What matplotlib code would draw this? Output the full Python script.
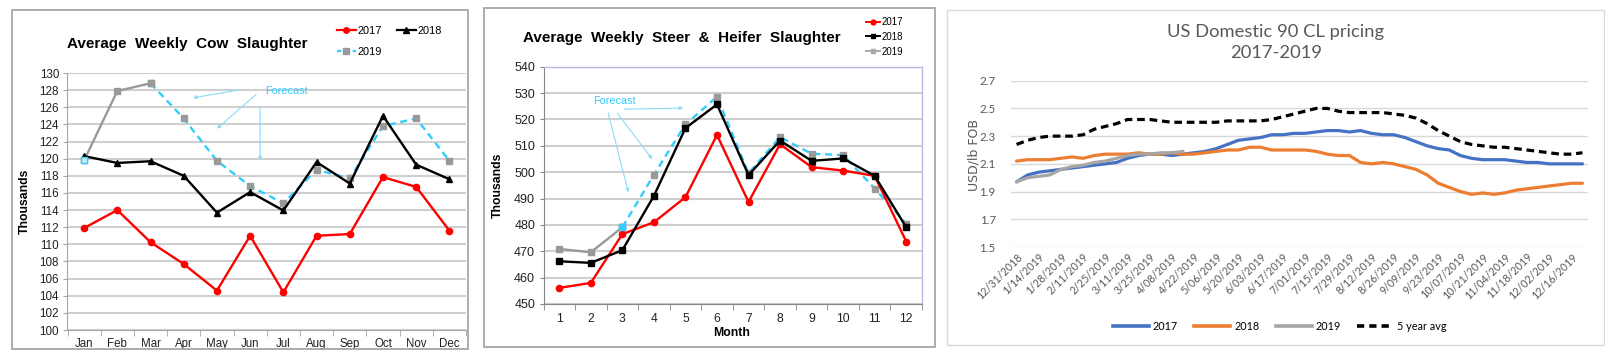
import matplotlib
matplotlib.use('Agg')
import matplotlib.pyplot as plt
import numpy as np
from matplotlib.lines import Line2D
from matplotlib.patches import Rectangle

# ---------------- data ----------------
months = ['Jan', 'Feb', 'Mar', 'Apr', 'May', 'Jun', 'Jul', 'Aug', 'Sep', 'Oct', 'Nov', 'Dec']
cow_2017 = [111.9, 114.0, 110.25, 107.7, 104.6, 111.0, 104.4, 111.0, 111.2, 117.85, 116.7, 111.6]
cow_2018 = [120.3, 119.5, 119.7, 118.0, 113.7, 116.1, 113.95, 119.6, 117.1, 125.0, 119.3, 117.6]
cow_2019 = [119.8, 127.9, 128.8, 124.7, 119.75, 116.8, 114.8, 118.7, 117.7, 123.8, 124.7, 119.75]

month_nums = [1, 2, 3, 4, 5, 6, 7, 8, 9, 10, 11, 12]
steer_2017 = [456.1, 458.0, 476.5, 481.0, 490.5, 514.1, 488.7, 510.6, 501.9, 500.6, 498.6, 473.7]
steer_2018 = [466.2, 465.6, 470.4, 491.0, 516.7, 525.7, 498.9, 512.0, 504.3, 505.2, 498.6, 479.1]
steer_2019 = [470.9, 469.6, 479.1, 499.0, 518.1, 528.6, 499.6, 513.3, 507.0, 506.5, 493.8, 480.5]

week_labels = ['12/31/2018', '1/14/2019', '1/28/2019', '2/11/2019', '2/25/2019', '3/11/2019',
               '3/25/2019', '4/08/2019', '4/22/2019', '5/06/2019', '5/20/2019', '6/03/2019',
               '6/17/2019', '7/01/2019', '7/15/2019', '7/29/2019', '8/12/2019', '8/26/2019',
               '9/09/2019', '9/23/2019', '10/07/2019', '10/21/2019', '11/04/2019', '11/18/2019',
               '12/02/2019', '12/16/2019']
price_2017 = [1.97, 2.02, 2.04, 2.05, 2.06, 2.07, 2.08, 2.09, 2.10, 2.11, 2.14, 2.16, 2.17,
              2.17, 2.16, 2.17, 2.18, 2.19, 2.21, 2.24, 2.27, 2.28, 2.29, 2.31, 2.31, 2.32,
              2.32, 2.33, 2.34, 2.34, 2.33, 2.34, 2.32, 2.31, 2.31, 2.29, 2.26, 2.23, 2.21,
              2.20, 2.16, 2.14, 2.13, 2.13, 2.13, 2.12, 2.11, 2.11, 2.10, 2.10, 2.10, 2.10]
price_2018 = [2.12, 2.13, 2.13, 2.13, 2.14, 2.15, 2.14, 2.16, 2.17, 2.17, 2.17, 2.18, 2.17,
              2.17, 2.18, 2.17, 2.17, 2.18, 2.19, 2.20, 2.20, 2.22, 2.22, 2.20, 2.20, 2.20,
              2.20, 2.19, 2.17, 2.16, 2.16, 2.11, 2.10, 2.11, 2.10, 2.08, 2.06, 2.02, 1.96,
              1.93, 1.90, 1.88, 1.89, 1.88, 1.89, 1.91, 1.92, 1.93, 1.94, 1.95, 1.96, 1.96]
price_2019 = [1.97, 2.00, 2.01, 2.02, 2.06, 2.08, 2.09, 2.11, 2.12, 2.14, 2.16, 2.17, 2.17,
              2.18, 2.18, 2.19]
price_5yr = [2.24, 2.27, 2.29, 2.30, 2.30, 2.30, 2.31, 2.35, 2.37, 2.39, 2.42, 2.42, 2.42,
             2.41, 2.40, 2.40, 2.40, 2.40, 2.40, 2.41, 2.41, 2.41, 2.41, 2.42, 2.44, 2.46,
             2.48, 2.50, 2.50, 2.48, 2.47, 2.47, 2.47, 2.47, 2.46, 2.45, 2.43, 2.39, 2.34,
             2.30, 2.26, 2.24, 2.23, 2.22, 2.22, 2.21, 2.20, 2.19, 2.18, 2.17, 2.17, 2.18]

# ---------------- layout helpers ----------------
W, H = 1606, 362
fig = plt.figure(figsize=(W / 100, H / 100), dpi=100)
ARIAL = 'Liberation Sans'
CALI = 'Lato'


def ax_px(l, t, r, b):
    return fig.add_axes([l / W, 1 - b / H, (r - l) / W, (b - t) / H])


def box_px(l, t, r, b, color, lw):
    fig.add_artist(Rectangle((l / W, 1 - b / H), (r - l) / W, (b - t) / H,
                             transform=fig.transFigure, fill=False,
                             edgecolor=color, linewidth=lw))


def fx(x):
    return x / W


def fy(y):
    return 1 - y / H


RED = '#ff0000'
LBLUE = '#33ccff'
GRAY19 = '#999999'
ARROW = '#8adcf5'

# ================= Panel 1 : cow slaughter =================
box_px(12, 10, 468, 349, '#a6a6a6', 1.3)
ax1 = ax_px(67.5, 73, 466, 330)
x1 = np.arange(len(months))
ax1.plot(x1, cow_2017, color=RED, lw=1.7, marker='o', ms=4.5, zorder=4)
ax1.plot(x1, cow_2018, color='black', lw=1.7, marker='^', ms=5, zorder=4)
ax1.plot(x1[:3], cow_2019[:3], color=GRAY19, lw=1.7, marker='s', ms=4, zorder=3)
ax1.plot(x1[2:], cow_2019[2:], color=LBLUE, lw=1.7, ls=(0, (3, 2)), marker='s', ms=4,
         mfc=GRAY19, mec=GRAY19, zorder=3)
ax1.plot(x1[:1], cow_2019[:1], ls='none', marker='s', ms=4, mfc='#c9ecf8', mec=LBLUE, zorder=5)
ax1.set_xlim(-0.5, 11.5)
ax1.set_ylim(100, 130)
ax1.set_yticks(np.arange(100, 131, 2))
ax1.set_xticks(x1)
ax1.set_xticklabels(months, fontfamily=ARIAL, fontsize=8.3, color='#222222')
ax1.set_xticks(np.arange(-0.5, 12, 1), minor=True)
ax1.tick_params(axis='x', which='major', length=0, pad=5.5)
ax1.tick_params(axis='x', which='minor', length=4, color='#a6a6a6', direction='out')
ax1.tick_params(axis='y', length=3, color='#a6a6a6', pad=3, labelsize=8.4, labelcolor='#222222')
for lab in ax1.get_yticklabels():
    lab.set_fontfamily(ARIAL)
ax1.yaxis.grid(True, color='#cfcfcf', lw=1.5)
ax1.set_axisbelow(True)
for s in ['top', 'right']:
    ax1.spines[s].set_visible(False)
for s in ['left', 'bottom']:
    ax1.spines[s].set_color('#a6a6a6')
ax1.set_ylabel('Thousands', fontfamily=ARIAL, fontweight='bold', fontsize=8.8)
ax1.yaxis.set_label_coords((25 - 67.5) / 398.5, 0.5)
ax1.yaxis.label.set_va('center')
fig.text(fx(67), fy(44), 'Average  Weekly  Cow  Slaughter', fontfamily=ARIAL, fontweight='bold',
         fontsize=11, ha='left', va='center')
ax1.text(6.08, 127.9, 'Forecast', color=LBLUE, fontfamily=ARIAL, fontsize=7.8,
         ha='center', va='center')
arrow_kw = dict(arrowstyle='-|>', color=ARROW, lw=0.8, mutation_scale=5, shrinkA=0, shrinkB=0)
ax1.annotate('', xy=(3.28, 127.1), xytext=(4.64, 128.0), arrowprops=arrow_kw)
ax1.annotate('', xy=(4.0, 123.5), xytext=(5.18, 127.5), arrowprops=arrow_kw)
ax1.annotate('', xy=(5.3, 119.8), xytext=(5.3, 126.0), arrowprops=arrow_kw)
h17 = Line2D([], [], color=RED, lw=1.6, marker='o', ms=4)
h18 = Line2D([], [], color='black', lw=1.6, marker='^', ms=4.5)
h19 = Line2D([], [], color=LBLUE, lw=1.6, ls=(0, (2, 1.5)), marker='s', ms=4, mfc=GRAY19, mec=GRAY19)
ax1.legend([h17, h19, h18], ['2017', '2019', '2018'], ncol=2, frameon=False,
           prop={'family': ARIAL, 'size': 7.9}, handlelength=1.7, handletextpad=0.15,
           columnspacing=1.4, labelspacing=1.0, borderpad=0, borderaxespad=0,
           loc='upper left', bbox_to_anchor=(fx(337), fy(26)),
           bbox_transform=fig.transFigure)

# ================= Panel 2 : steer & heifer =================
box_px(484, 8, 935, 347, '#a6a6a6', 1.3)
ax2 = ax_px(543.5, 66.7, 922, 304)
x2 = np.array(month_nums)
ax2.plot(x2, steer_2017, color=RED, lw=1.7, marker='o', ms=4.5, zorder=4)
ax2.plot(x2, steer_2018, color='black', lw=1.7, marker='s', ms=4.5, zorder=4)
ax2.plot(x2[:3], steer_2019[:3], color=GRAY19, lw=1.7, marker='s', ms=4, zorder=3)
ax2.plot(x2[2:], steer_2019[2:], color=LBLUE, lw=1.7, ls=(0, (3, 2)), marker='s', ms=4,
         mfc=GRAY19, mec=GRAY19, zorder=3)
ax2.plot(x2[2:3], steer_2019[2:3], ls='none', marker='s', ms=4, mfc=LBLUE, mec=LBLUE, zorder=5)
ax2.set_xlim(0.5, 12.5)
ax2.set_ylim(450, 540)
ax2.set_yticks(np.arange(450, 541, 10))
ax2.set_xticks(x2)
ax2.set_xticklabels([str(m) for m in month_nums], fontfamily=ARIAL, fontsize=8.7, color='#222222')
ax2.set_xticks(np.arange(0.5, 13, 1), minor=True)
ax2.tick_params(axis='x', which='major', length=0, pad=6.5)
ax2.tick_params(axis='x', which='minor', length=4, color='#868686', direction='out')
ax2.tick_params(axis='y', length=3, color='#868686', pad=3, labelsize=9, labelcolor='#222222')
for lab in ax2.get_yticklabels():
    lab.set_fontfamily(ARIAL)
ax2.yaxis.grid(True, color='#cfcfcf', lw=1.5)
ax2.set_axisbelow(True)
for s in ['top', 'right']:
    ax2.spines[s].set_color('#b8b8e0')
    ax2.spines[s].set_linewidth(1.0)
for s in ['left', 'bottom']:
    ax2.spines[s].set_color('#868686')
ax2.set_ylabel('Thousands', fontfamily=ARIAL, fontweight='bold', fontsize=8.8)
ax2.yaxis.set_label_coords((498 - 543.5) / 378.5, 0.5)
ax2.yaxis.label.set_va('center')
ax2.set_xlabel('Month', fontfamily=ARIAL, fontweight='bold', fontsize=8.8)
ax2.xaxis.set_label_coords((732 - 543.5) / 378.5, -(333 - 304) / 237.3)
ax2.xaxis.label.set_va('center')
fig.text(fx(523), fy(38), 'Average  Weekly  Steer  &  Heifer  Slaughter', fontfamily=ARIAL,
         fontweight='bold', fontsize=11, ha='left', va='center')
ax2.text(2.74, 527.0, 'Forecast', color=LBLUE, fontfamily=ARIAL, fontsize=7.8,
         ha='center', va='center')
ax2.annotate('', xy=(4.93, 524.3), xytext=(3.06, 523.9), arrowprops=arrow_kw)
ax2.annotate('', xy=(3.95, 504.9), xytext=(2.84, 522.4), arrowprops=arrow_kw)
ax2.annotate('', xy=(3.19, 492.4), xytext=(2.55, 522.4), arrowprops=arrow_kw)
g17 = Line2D([], [], color=RED, lw=1.4, marker='o', ms=3.5)
g18 = Line2D([], [], color='black', lw=1.4, marker='s', ms=3.5)
g19 = Line2D([], [], color='#aaaaaa', lw=1.4, marker='s', ms=3.5)
ax2.legend([g17, g18, g19], ['2017', '2018', '2019'], ncol=1, frameon=False,
           prop={'family': ARIAL, 'size': 6.9}, handlelength=1.5, handletextpad=0.15,
           labelspacing=0.5, borderpad=0, borderaxespad=0,
           loc='upper left', bbox_to_anchor=(fx(866), fy(17)),
           bbox_transform=fig.transFigure)

# ================= Panel 3 : 90 CL pricing =================
box_px(947, 10, 1604, 345, '#d9d9d9', 1.0)
ax3 = ax_px(1011, 80.7, 1588, 247)
wk = np.arange(len(price_2017))
ax3.plot(wk, price_2017, color='#4472c4', lw=2.3, solid_capstyle='round', zorder=3)
ax3.plot(wk, price_2018, color='#ed7d31', lw=2.3, solid_capstyle='round', zorder=3)
ax3.plot(wk[:len(price_2019)], price_2019, color='#a5a5a5', lw=2.3, solid_capstyle='round', zorder=4)
ax3.plot(wk, price_5yr, color='black', lw=2.3, ls=(0, (2.4, 1.5)), zorder=4)
ax3.set_xlim(-0.5, len(wk) - 0.5)
ax3.set_ylim(1.5, 2.7)
ax3.set_yticks(np.arange(1.5, 2.71, 0.2))
ax3.set_yticklabels(['%.1f' % v for v in np.arange(1.5, 2.71, 0.2)], fontfamily=CALI,
                    fontsize=8.3, color='#595959')
ax3.set_xticks(wk[::2])
ax3.set_xticklabels(week_labels, fontfamily=CALI, fontsize=7.7, color='#595959',
                    rotation=45, ha='right', va='top', rotation_mode='anchor')
ax3.tick_params(axis='x', length=0, pad=3)
ax3.tick_params(axis='y', length=0, pad=11)
ax3.yaxis.grid(True, color='#d9d9d9', lw=1.0)
ax3.set_axisbelow(True)
for s in ax3.spines.values():
    s.set_visible(False)
ax3.set_ylabel('USD/lb FOB', fontfamily='DejaVu Sans', fontsize=9, color='#595959')
ax3.yaxis.set_label_coords((974 - 1011) / 577, (247 - 155) / 166.3)
ax3.yaxis.label.set_va('center')
fig.text(fx(1276), fy(32), 'US Domestic 90 CL pricing', fontfamily=CALI, fontsize=13.2,
         color='#595959', ha='center', va='center')
fig.text(fx(1276), fy(53), '2017-2019', fontfamily=CALI, fontsize=13.2,
         color='#595959', ha='center', va='center')
k17 = Line2D([], [], color='#4472c4', lw=2.6)
k18 = Line2D([], [], color='#ed7d31', lw=2.6)
k19 = Line2D([], [], color='#a5a5a5', lw=2.6)
k5 = Line2D([], [], color='black', lw=2.6, ls=(0, (2.0, 1.4)))
ax3.legend([k17, k18, k19, k5], ['2017', '2018', '2019', '5 year avg'], ncol=4, frameon=False,
           prop={'family': CALI, 'size': 7.8}, handlelength=3.3, handletextpad=0.4,
           columnspacing=1.5, borderpad=0, borderaxespad=0,
           loc='center', bbox_to_anchor=(fx(1280), fy(326)),
           bbox_transform=fig.transFigure)

fig.savefig('out.png', dpi=100)
